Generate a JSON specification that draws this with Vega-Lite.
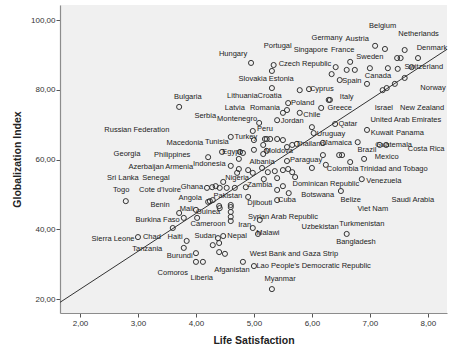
{
  "$schema": "https://vega.github.io/schema/vega-lite/v6.json",
  "width": 387,
  "height": 308,
  "autosize": {"type": "none"},
  "padding": {"left": 60, "top": 5, "right": 6, "bottom": 50},
  "background": "white",
  "config": {"view": {"fill": "#F0F0F0", "stroke": null}, "font": "Liberation Sans"},
  "datasets": {
    "fit": [{"ls": 1.655, "gi": 19.1}, {"ls": 8.33, "gi": 91.6}],
    "points": [
      {"ls":4.95,"gi":87.7},{"ls":5.34,"gi":87.1},{"ls":5.31,"gi":85.4},{"ls":5.31,"gi":80.5},{"ls":5.79,"gi":79.9},{"ls":5.95,"gi":80.2},
      {"ls":3.71,"gi":75.1},{"ls":5.59,"gi":76.2},{"ls":5.50,"gi":73.4},{"ls":5.57,"gi":74.2},{"ls":5.79,"gi":73.4},{"ls":6.16,"gi":74.8},
      {"ls":6.29,"gi":77.1},{"ls":6.31,"gi":77.1},{"ls":5.40,"gi":71.3},{"ls":5.09,"gi":70.5},{"ls":4.98,"gi":68.2},
      {"ls":6.41,"gi":86.5},{"ls":6.34,"gi":84.5},{"ls":6.60,"gi":85.7},{"ls":6.74,"gi":85.7},{"ls":6.66,"gi":88.0},{"ls":7.00,"gi":86.2},
      {"ls":7.31,"gi":86.2},{"ls":7.48,"gi":86.0},{"ls":7.09,"gi":92.6},{"ls":7.26,"gi":91.7},{"ls":7.60,"gi":91.4},{"ls":7.47,"gi":89.1},
      {"ls":7.53,"gi":89.1},{"ls":7.83,"gi":89.1},{"ls":7.72,"gi":86.5},{"ls":6.48,"gi":82.8},{"ls":6.95,"gi":81.7},{"ls":7.60,"gi":83.4},
      {"ls":7.43,"gi":81.7},{"ls":7.29,"gi":80.5},{"ls":7.22,"gi":79.9},
      {"ls":4.60,"gi":66.5},{"ls":5.00,"gi":65.6},{"ls":5.19,"gi":65.9},{"ls":5.22,"gi":65.9},{"ls":5.28,"gi":65.9},{"ls":5.40,"gi":65.9},
      {"ls":5.50,"gi":65.6},{"ls":5.66,"gi":64.2},{"ls":5.74,"gi":64.5},{"ls":5.57,"gi":63.6},
      {"ls":4.45,"gi":62.2},{"ls":4.76,"gi":62.2},{"ls":4.81,"gi":61.9},{"ls":5.00,"gi":62.8},{"ls":5.16,"gi":64.2},{"ls":5.22,"gi":62.5},
      {"ls":5.16,"gi":61.6},{"ls":4.21,"gi":60.7},{"ls":4.74,"gi":60.2},{"ls":5.57,"gi":59.6},
      {"ls":4.60,"gi":58.2},{"ls":4.74,"gi":57.3},{"ls":4.71,"gi":56.2},{"ls":4.90,"gi":57.0},{"ls":4.98,"gi":56.2},{"ls":5.14,"gi":57.6},
      {"ls":5.24,"gi":56.4},{"ls":5.36,"gi":56.7},{"ls":5.50,"gi":57.0},{"ls":5.59,"gi":57.3},{"ls":5.66,"gi":56.4},{"ls":5.71,"gi":55.0},
      {"ls":4.47,"gi":53.6},{"ls":5.17,"gi":54.4},{"ls":5.40,"gi":54.7},{"ls":5.40,"gi":51.3},{"ls":5.50,"gi":52.4},{"ls":5.60,"gi":50.4},
      {"ls":4.19,"gi":51.9},{"ls":4.28,"gi":52.1},{"ls":4.34,"gi":52.4},{"ls":4.41,"gi":51.9},{"ls":4.53,"gi":51.9},{"ls":4.67,"gi":51.9},
      {"ls":4.86,"gi":52.1},{"ls":4.24,"gi":48.1},{"ls":4.29,"gi":48.4},{"ls":4.21,"gi":47.9},{"ls":4.90,"gi":49.3},{"ls":5.40,"gi":48.4},
      {"ls":4.40,"gi":46.7},{"ls":4.60,"gi":47.0},
      {"ls":3.71,"gi":44.7},{"ls":3.79,"gi":43.3},{"ls":4.00,"gi":45.6},{"ls":4.02,"gi":43.3},{"ls":4.41,"gi":46.1},{"ls":4.60,"gi":46.4},
      {"ls":4.60,"gi":45.0},{"ls":4.60,"gi":43.6},{"ls":4.60,"gi":42.4},{"ls":5.10,"gi":42.7},{"ls":4.98,"gi":40.4},{"ls":5.07,"gi":38.7},
      {"ls":3.84,"gi":36.7},{"ls":3.79,"gi":34.7},{"ls":3.60,"gi":40.4},
      {"ls":4.38,"gi":37.5},{"ls":4.47,"gi":38.1},{"ls":4.29,"gi":35.5},{"ls":4.40,"gi":36.1},{"ls":4.40,"gi":33.5},{"ls":4.50,"gi":33.0},
      {"ls":4.00,"gi":33.2},{"ls":4.00,"gi":30.7},{"ls":4.12,"gi":30.7},{"ls":4.81,"gi":30.7},{"ls":5.00,"gi":29.5},{"ls":5.31,"gi":22.9},
      {"ls":3.00,"gi":37.8},{"ls":2.79,"gi":48.1},
      {"ls":6.00,"gi":69.3},{"ls":6.40,"gi":70.2},{"ls":6.95,"gi":68.5},{"ls":6.03,"gi":67.6},{"ls":6.19,"gi":64.8},{"ls":6.79,"gi":65.0},
      {"ls":7.17,"gi":64.2},{"ls":7.28,"gi":64.2},{"ls":6.19,"gi":61.3},{"ls":6.47,"gi":61.3},{"ls":6.52,"gi":61.3},{"ls":6.66,"gi":59.3},
      {"ls":6.90,"gi":60.2},{"ls":6.00,"gi":57.6},{"ls":6.24,"gi":58.5},{"ls":6.86,"gi":54.4},{"ls":6.50,"gi":51.0},{"ls":6.60,"gi":38.7}
    ],
    "labels": [
      {"country":"Hungary","ls":4.64,"gi":90.3},{"country":"Portugal","ls":5.41,"gi":92.6},{"country":"Singapore","ls":5.98,"gi":91.4},
      {"country":"Germany","ls":6.26,"gi":94.8},{"country":"Austria","ls":6.78,"gi":94.6},{"country":"Belgium","ls":7.22,"gi":98.3},
      {"country":"Netherlands","ls":7.84,"gi":96.0},{"country":"France","ls":6.53,"gi":91.4},{"country":"Sweden","ls":7.00,"gi":89.4},
      {"country":"Denmark","ls":8.07,"gi":92.0},{"country":"Czech Republic","ls":5.88,"gi":87.4},{"country":"Switzerland","ls":7.93,"gi":86.5},
      {"country":"Canada","ls":7.14,"gi":84.0},{"country":"Slovakia","ls":4.98,"gi":83.1},{"country":"Estonia","ls":5.47,"gi":83.1},
      {"country":"Cyprus","ls":6.17,"gi":80.2},{"country":"Spain","ls":6.69,"gi":82.5},{"country":"Norway","ls":8.09,"gi":80.5},
      {"country":"Bulgaria","ls":3.86,"gi":77.9},{"country":"Lithuania","ls":4.80,"gi":78.2},{"country":"Croatia","ls":5.27,"gi":78.2},
      {"country":"Italy","ls":6.60,"gi":77.9},{"country":"Latvia","ls":4.67,"gi":74.8},{"country":"Romania","ls":5.19,"gi":74.8},
      {"country":"Poland","ls":5.84,"gi":76.2},{"country":"Greece","ls":6.48,"gi":74.8},{"country":"Israel","ls":7.24,"gi":74.8},
      {"country":"New Zealand","ls":7.90,"gi":74.8},{"country":"Serbia","ls":4.16,"gi":72.5},{"country":"Montenegro","ls":4.71,"gi":71.6},
      {"country":"Jordan","ls":5.66,"gi":71.1},{"country":"Chile","ls":6.00,"gi":72.8},{"country":"Qatar","ls":6.62,"gi":70.2},
      {"country":"United Arab Emirates","ls":7.62,"gi":71.3},{"country":"Russian Federation","ls":2.98,"gi":68.5},{"country":"Peru","ls":5.19,"gi":68.8},
      {"country":"Uruguay","ls":6.33,"gi":67.3},{"country":"Kuwait","ls":7.21,"gi":67.6},{"country":"Panama","ls":7.69,"gi":67.6},
      {"country":"Macedonia","ls":3.81,"gi":64.8},{"country":"Tunisia","ls":4.36,"gi":65.0},{"country":"Turkey","ls":4.86,"gi":66.5},
      {"country":"Thailand","ls":5.97,"gi":64.5},{"country":"Jamaica","ls":6.45,"gi":64.8},{"country":"Brazil","ls":6.95,"gi":62.8},
      {"country":"Guatemala","ls":7.41,"gi":64.2},{"country":"Costa Rica","ls":7.97,"gi":63.0},{"country":"Georgia","ls":2.81,"gi":61.6},
      {"country":"Philippines","ls":3.59,"gi":61.3},{"country":"Egypt","ls":4.62,"gi":62.2},{"country":"Moldova","ls":5.43,"gi":62.5},
      {"country":"Mexico","ls":7.29,"gi":60.7},{"country":"Albania","ls":5.14,"gi":59.3},{"country":"Paraguay","ls":5.90,"gi":59.9},
      {"country":"Azerbaijan","ls":3.14,"gi":57.9},{"country":"Armenia","ls":3.71,"gi":57.9},{"country":"Indonesia","ls":4.23,"gi":58.7},
      {"country":"Colombia","ls":6.53,"gi":57.3},{"country":"Trinidad and Tobago","ls":7.41,"gi":57.3},{"country":"Sri Lanka","ls":2.74,"gi":54.7},
      {"country":"Senegal","ls":3.31,"gi":54.7},{"country":"Nigeria","ls":4.71,"gi":54.7},{"country":"Venezuela","ls":7.24,"gi":53.9},
      {"country":"Dominican Republic","ls":6.24,"gi":53.0},{"country":"Togo","ls":2.71,"gi":51.3},{"country":"Cote d'Ivoire","ls":3.38,"gi":51.3},
      {"country":"Ghana","ls":3.93,"gi":52.1},{"country":"Zambia","ls":5.10,"gi":52.7},{"country":"Botswana","ls":6.10,"gi":49.9},
      {"country":"Pakistan","ls":4.55,"gi":49.6},{"country":"Angola","ls":3.90,"gi":49.0},{"country":"Djibouti","ls":5.10,"gi":47.6},
      {"country":"Cuba","ls":5.57,"gi":48.4},{"country":"Belize","ls":6.67,"gi":48.4},{"country":"Saudi Arabia","ls":7.74,"gi":48.4},
      {"country":"Benin","ls":3.38,"gi":47.0},{"country":"Mali","ls":3.84,"gi":45.8},{"country":"Guinea","ls":4.21,"gi":45.0},
      {"country":"Viet Nam","ls":7.05,"gi":45.8},{"country":"Burkina Faso","ls":3.34,"gi":42.7},{"country":"Syrian Arab Republic","ls":5.50,"gi":43.6},
      {"country":"Cameroon","ls":4.21,"gi":41.5},{"country":"Iran","ls":4.84,"gi":41.3},{"country":"Uzbekistan","ls":6.14,"gi":40.7},
      {"country":"Turkmenistan","ls":6.86,"gi":41.5},{"country":"Malawi","ls":5.24,"gi":39.0},{"country":"Sierra Leone","ls":2.57,"gi":37.2},
      {"country":"Chad","ls":3.24,"gi":37.8},{"country":"Haiti","ls":3.64,"gi":37.8},{"country":"Sudan","ls":4.16,"gi":38.1},
      {"country":"Nepal","ls":4.71,"gi":38.1},{"country":"Bangladesh","ls":6.76,"gi":36.4},{"country":"Tanzania","ls":3.16,"gi":34.4},
      {"country":"Burundi","ls":3.72,"gi":32.4},{"country":"West Bank and Gaza Strip","ls":5.69,"gi":33.0},{"country":"Afganistan","ls":4.62,"gi":28.4},
      {"country":"Lao People's Democratic Republic","ls":6.03,"gi":29.5},{"country":"Comoros","ls":3.60,"gi":27.5},{"country":"Liberia","ls":4.10,"gi":26.1},
      {"country":"Myanmar","ls":5.45,"gi":25.8}
    ]
  },
  "encoding": {
    "x": {
      "field": "ls", "type": "quantitative",
      "scale": {"domain": [1.655, 8.33], "nice": false, "zero": false},
      "axis": {
        "title": "Life Satisfaction", "values": [2, 3, 4, 5, 6, 7, 8],
        "labelExpr": "replace(format(datum.value, '.2f'), '.', ',')",
        "grid": false, "domainColor": "#8c8c8c", "domainWidth": 1.2, "tickColor": "#555555", "tickSize": 4,
        "labelFontSize": 8, "labelColor": "#333333", "labelPadding": 2, "labelFont": "Liberation Sans",
        "titleFontSize": 10.5, "titleFontWeight": "bold", "titleColor": "#222222", "titlePadding": 8, "titleFont": "Liberation Sans"
      }
    },
    "y": {
      "field": "gi", "type": "quantitative",
      "scale": {"domain": [16.05, 104.3], "nice": false, "zero": false},
      "axis": {
        "title": "Globalization Index", "values": [20, 40, 60, 80, 100],
        "labelExpr": "replace(format(datum.value, '.2f'), '.', ',')",
        "grid": false, "domainColor": "#8c8c8c", "domainWidth": 1.2, "tickColor": "#555555", "tickSize": 4,
        "labelFontSize": 8, "labelColor": "#333333", "labelPadding": 1, "labelFont": "Liberation Sans",
        "titleFontSize": 10.5, "titleFontWeight": "bold", "titleColor": "#222222", "titlePadding": 8, "titleFont": "Liberation Sans"
      }
    }
  },
  "layer": [
    {
      "data": {"name": "fit"},
      "mark": {"type": "line", "color": "#333333", "strokeWidth": 1, "clip": true}
    },
    {
      "data": {"name": "points"},
      "mark": {"type": "point", "shape": "circle", "filled": false, "color": "#333333", "size": 26, "strokeWidth": 1, "opacity": 1}
    },
    {
      "data": {"name": "labels"},
      "mark": {"type": "text", "fontSize": 7.5, "color": "#222222", "align": "center", "baseline": "middle", "font": "Liberation Sans"},
      "encoding": {"text": {"field": "country", "type": "nominal"}}
    }
  ]
}
